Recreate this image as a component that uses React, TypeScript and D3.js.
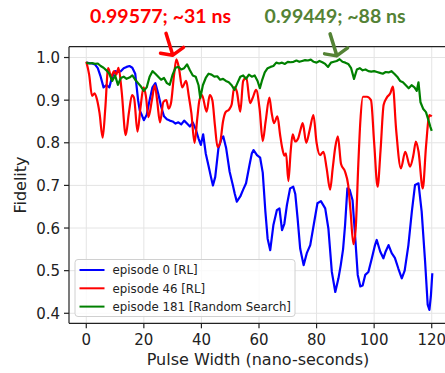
import * as d3 from "d3";

const WIDTH = 445;
const HEIGHT = 373;
const PLOT = { left: 69, top: 46.7, right: 449, bottom: 323.3 };

const X_DOMAIN = [-6, 126];
const Y_DOMAIN = [0.3765, 1.0254];
const X_TICKS = [0, 20, 40, 60, 80, 100, 120];
const Y_TICKS = [0.4, 0.5, 0.6, 0.7, 0.8, 0.9, 1.0];

const SERIES_NAMES = ["episode 0 [RL]", "episode 46 [RL]", "episode 181 [Random Search]"];
const SERIES_COLORS = ["#0000ff", "#ff0000", "#008000"];

// episode 0 [RL]
const episode0: [number, number][] = [
  [0, 0.988], [1, 0.987], [2, 0.986], [3, 0.984], [4, 0.975], [5, 0.955], [6, 0.93],
  [7, 0.935], [8, 0.93], [9, 0.955], [10, 0.968], [11, 0.966], [12, 0.968], [13, 0.975],
  [14, 0.978], [15, 0.98], [16, 0.976], [17, 0.962], [18, 0.9], [18.6, 0.875], [19.3, 0.865],
  [20, 0.853], [21, 0.866], [22, 0.9], [23, 0.93], [24, 0.94], [25, 0.915], [26, 0.885],
  [27, 0.862], [28, 0.855], [29, 0.852], [30, 0.85], [31, 0.845], [32, 0.848], [33, 0.843],
  [34, 0.852], [35, 0.845], [36, 0.838], [37, 0.848], [38, 0.832], [39, 0.81], [39.8, 0.795],
  [40.6, 0.82], [41.5, 0.775], [42.5, 0.745], [43.3, 0.72], [44, 0.7], [44.8, 0.72],
  [45.9, 0.787], [47, 0.81], [47.6, 0.815], [48.6, 0.787], [49.8, 0.732], [50.9, 0.701],
  [51.6, 0.68], [52.3, 0.662], [53.5, 0.674], [54.5, 0.69], [55.5, 0.705], [56.7, 0.748],
  [57.5, 0.775], [58.1, 0.783], [59.3, 0.771], [60.4, 0.765], [61.3, 0.73], [62.2, 0.64],
  [63, 0.575], [63.9, 0.548], [65, 0.607], [66.2, 0.642], [67.1, 0.646], [68, 0.595],
  [68.8, 0.61], [69.7, 0.654], [70.8, 0.693], [71.9, 0.697], [72.6, 0.68], [73.4, 0.623],
  [74.3, 0.552], [75.5, 0.513], [76.6, 0.541], [77.8, 0.56], [79, 0.607], [80.3, 0.658],
  [81.5, 0.663], [83, 0.646], [84.1, 0.599], [85.3, 0.497], [86.5, 0.45], [87.6, 0.482],
  [88.4, 0.513], [89.2, 0.55], [89.9, 0.607], [90.7, 0.693], [91.5, 0.69], [92.5, 0.665],
  [93.4, 0.58], [94.3, 0.49], [95.2, 0.463], [96, 0.465], [96.9, 0.49], [98, 0.497],
  [99.2, 0.529], [100.3, 0.56], [100.9, 0.572], [102.1, 0.545], [103.2, 0.529], [104, 0.545],
  [105, 0.56], [106.1, 0.541], [107.2, 0.53], [108.4, 0.505], [109.6, 0.482], [110.6, 0.5],
  [111.9, 0.56], [113.1, 0.639], [114.2, 0.701], [115.4, 0.705], [116.5, 0.639],
  [117.7, 0.521], [118.6, 0.42], [119.2, 0.408], [119.7, 0.44], [120.2, 0.494],
];

// episode 46 [RL]
const episode46: [number, number][] = [
  [0, 0.99], [1, 0.96], [2, 0.91], [2.9, 0.916], [3.7, 0.902], [4.6, 0.87], [5.7, 0.812],
  [6.6, 0.88], [7.6, 0.975], [8.7, 0.955], [9.6, 0.968], [10.4, 0.96], [11.2, 0.976],
  [12.3, 0.92], [13.7, 0.818], [14.8, 0.87], [15.9, 0.912], [16.6, 0.905], [17.8, 0.826],
  [18.8, 0.88], [19.9, 0.93], [20.7, 0.91], [21.6, 0.86], [22.8, 0.9], [23.8, 0.935],
  [24.6, 0.9], [25.6, 0.848], [26.8, 0.896], [27.8, 0.9], [28.6, 0.88], [29.4, 0.892],
  [30.5, 0.96], [31.3, 0.996], [32.2, 0.975], [33.3, 0.93], [34.7, 0.945], [35.6, 0.91],
  [36.5, 0.87], [37.6, 0.8], [38.6, 0.86], [39.3, 0.9], [40.2, 0.912], [41.8, 0.873],
  [42.9, 0.912], [43.8, 0.9], [44.7, 0.84], [45.6, 0.79], [46.5, 0.8], [47.5, 0.85],
  [48.4, 0.872], [49.6, 0.878], [50.5, 0.89], [51.4, 0.93], [52.3, 0.92], [53.5, 0.873],
  [54.5, 0.945], [55.6, 0.953], [56.9, 0.893], [57.8, 0.905], [59, 0.924], [60.2, 0.88],
  [61.3, 0.804], [62.3, 0.85], [63.6, 0.906], [64.4, 0.87], [65.2, 0.846], [66.4, 0.862],
  [67.3, 0.82], [68, 0.79], [68.8, 0.77], [69.4, 0.775], [70.2, 0.71], [71, 0.78],
  [71.7, 0.82], [72.6, 0.803], [73.6, 0.81], [74.4, 0.83], [75.2, 0.846], [76.4, 0.8],
  [77.6, 0.83], [78.9, 0.865], [80, 0.8], [81.2, 0.771], [82.4, 0.779], [83.5, 0.74],
  [84.7, 0.69], [85.6, 0.74], [86.5, 0.79], [87.4, 0.815], [88.5, 0.75], [89.9, 0.732],
  [91, 0.7], [91.8, 0.64], [92.8, 0.562], [93.6, 0.6], [94.5, 0.75], [95.2, 0.85],
  [96.1, 0.908], [97.5, 0.908], [98.9, 0.9], [100, 0.8], [101.2, 0.697], [102.2, 0.78],
  [103.3, 0.889], [104.4, 0.906], [105.6, 0.916], [106.5, 0.932], [107.6, 0.834],
  [109.3, 0.74], [110.8, 0.779], [112.5, 0.744], [113.6, 0.77], [114.5, 0.803],
  [115.4, 0.78], [116.9, 0.693], [118, 0.79], [119.2, 0.865], [120, 0.862],
];

// episode 181 [Random Search]
const episode181: [number, number][] = [
  [0, 0.988], [1, 0.986], [2, 0.987], [3, 0.985], [4, 0.986], [5, 0.98], [6, 0.976],
  [7, 0.97], [8, 0.962], [9, 0.945], [10, 0.958], [11, 0.936], [12, 0.952], [13, 0.955],
  [14, 0.95], [15, 0.953], [16, 0.958], [17, 0.948], [18, 0.94], [19, 0.932], [20, 0.922],
  [21, 0.93], [22, 0.955], [23, 0.968], [24, 0.962], [25, 0.955], [26, 0.948], [27, 0.952],
  [28, 0.94], [29, 0.936], [30, 0.96], [31, 0.976], [32, 0.978], [33, 0.972], [34, 0.975],
  [35, 0.984], [36, 0.97], [37, 0.958], [38, 0.955], [39, 0.935], [39.6, 0.905],
  [40.5, 0.935], [41.5, 0.952], [42.5, 0.962], [43.5, 0.96], [44.5, 0.955], [45.5, 0.956],
  [46.5, 0.948], [47.5, 0.95], [48.5, 0.945], [49.5, 0.942], [50.5, 0.935], [51.5, 0.924],
  [52.5, 0.94], [53.5, 0.955], [54.5, 0.958], [55.5, 0.95], [56.5, 0.96], [57.5, 0.955],
  [58.5, 0.958], [59.5, 0.945], [60.3, 0.928], [61, 0.945], [62, 0.965], [63, 0.975],
  [64, 0.978], [65, 0.98], [66, 0.988], [67, 0.986], [68, 0.988], [69, 0.985], [70, 0.99],
  [71, 0.989], [72, 0.99], [73, 0.993], [74, 0.99], [75, 0.992], [76, 0.994], [77, 0.993],
  [78, 0.995], [79, 0.99], [80, 0.988], [81, 0.992], [82, 0.989], [83, 0.985], [84, 0.978],
  [85, 0.988], [86, 0.99], [87, 0.992], [88, 0.996], [89, 0.99], [90, 0.988], [91, 0.985],
  [92, 0.975], [93, 0.95], [94, 0.972], [95, 0.975], [96, 0.97], [97, 0.972], [98, 0.968],
  [99, 0.967], [100, 0.968], [101, 0.966], [102, 0.964], [103, 0.962], [104, 0.966],
  [105, 0.965], [106, 0.968], [107, 0.962], [108, 0.955], [109, 0.945], [110, 0.942],
  [111, 0.935], [112, 0.928], [113, 0.935], [114, 0.93], [114.8, 0.922], [115.4, 0.942],
  [116.1, 0.895], [117, 0.88], [118, 0.872], [119, 0.85], [119.5, 0.838], [120, 0.828],
];

const ALL_SERIES = [episode0, episode46, episode181];
// the RL episode 46 pulse is a smooth waveform, the others are noisy
const SMOOTH = [false, true, false];

// annotated best points
const ANNOT_LABELS = ["0.99577; ~31 ns", "0.99449; ~88 ns"];
const ANNOT_X = [31, 88];
const ANNOT_Y = [0.99577, 0.99449];
const ANNOT_COLORS = ["#ff0000", "#548235"];

export default function App() {
  const x = d3.scaleLinear().domain(X_DOMAIN).range([PLOT.left, PLOT.right]);
  const y = d3.scaleLinear().domain(Y_DOMAIN).range([PLOT.bottom, PLOT.top]);
  const straight = d3
    .line<[number, number]>()
    .x((d) => x(d[0]))
    .y((d) => y(d[1]));
  const smooth = d3
    .line<[number, number]>()
    .x((d) => x(d[0]))
    .y((d) => y(d[1]))
    .curve(d3.curveMonotoneX);

  const tickFont = "DejaVu Sans, sans-serif";

  return (
    <svg
      width={WIDTH}
      height={HEIGHT}
      style={{ position: "absolute", left: 0, top: 0, background: "#fff" }}
    >
      {/* grid */}
      {X_TICKS.map((t) => (
        <line key={"gx" + t} x1={x(t)} x2={x(t)} y1={PLOT.top} y2={PLOT.bottom} stroke="#e4e4e4" strokeWidth={1} />
      ))}
      {Y_TICKS.map((t) => (
        <line key={"gy" + t} x1={PLOT.left} x2={PLOT.right} y1={y(t)} y2={y(t)} stroke="#e4e4e4" strokeWidth={1} />
      ))}

      {/* series */}
      {ALL_SERIES.map((s, i) => (
        <path
          key={i}
          d={(SMOOTH[i] ? smooth(s) : straight(s)) || ""}
          fill="none"
          stroke={SERIES_COLORS[i]}
          strokeWidth={2.2}
          strokeLinejoin="round"
        />
      ))}

      {/* spines */}
      <line x1={PLOT.left} x2={PLOT.left} y1={PLOT.top} y2={PLOT.bottom} stroke="#222" strokeWidth={1.2} />
      <line x1={PLOT.left} x2={PLOT.right} y1={PLOT.bottom} y2={PLOT.bottom} stroke="#222" strokeWidth={1.2} />
      <line x1={PLOT.left} x2={PLOT.right} y1={PLOT.top} y2={PLOT.top} stroke="#222" strokeWidth={1.2} />

      {/* x ticks */}
      {X_TICKS.map((t) => (
        <g key={"xt" + t}>
          <line x1={x(t)} x2={x(t)} y1={PLOT.bottom} y2={PLOT.bottom + 5} stroke="#222" strokeWidth={1.2} />
          <text x={x(t)} y={PLOT.bottom + 22} textAnchor="middle" fontFamily={tickFont} fontSize={15} fill="#222">
            {t}
          </text>
        </g>
      ))}
      {/* y ticks */}
      {Y_TICKS.map((t) => (
        <g key={"yt" + t}>
          <line x1={PLOT.left - 5} x2={PLOT.left} y1={y(t)} y2={y(t)} stroke="#222" strokeWidth={1.2} />
          <text x={PLOT.left - 9} y={y(t) + 5.5} textAnchor="end" fontFamily={tickFont} fontSize={15} fill="#222">
            {t.toFixed(1)}
          </text>
        </g>
      ))}

      {/* axis labels */}
      <text x={258} y={365} textAnchor="middle" fontFamily={tickFont} fontSize={16} fill="#222">
        Pulse Width (nano-seconds)
      </text>
      <text
        transform={`translate(26, 185) rotate(-90)`}
        textAnchor="middle"
        fontFamily={tickFont}
        fontSize={16}
        fill="#222"
      >
        Fidelity
      </text>

      {/* legend */}
      <rect x={75} y={259.5} width={220} height={57} rx={3} fill="#fff" fillOpacity={0.8} stroke="#d0d0d0" />
      {SERIES_NAMES.map((name, i) => (
        <g key={name}>
          <line x1={79.5} x2={104.5} y1={270 + i * 18.3} y2={270 + i * 18.3} stroke={SERIES_COLORS[i]} strokeWidth={2} />
          <text x={112.5} y={274.2 + i * 18.3} fontFamily={tickFont} fontSize={11.8} fill="#222">
            {name}
          </text>
        </g>
      ))}

      {/* annotations */}
      {ANNOT_LABELS.map((label, i) => {
        const ax = x(ANNOT_X[i]);
        const ay = y(ANNOT_Y[i]);
        const tipX = ax - 3;
        const tipY = ay - 5;
        return (
          <g key={label}>
            <text
              x={i === 0 ? ax - 15 : ax - 4.5}
              y={23}
              textAnchor="middle"
              fontFamily="Lato, Liberation Sans, sans-serif"
              fontWeight="bold"
              fontSize={19}
              fill={ANNOT_COLORS[i]}
              textLength={141}
              lengthAdjust="spacingAndGlyphs"
            >
              {label}
            </text>
            <path
              d={`M${tipX - 6.5},${tipY - 21} L${tipX},${tipY} M${tipX - 12},${tipY - 1} L${tipX},${tipY + 1} L${tipX + 11},${tipY - 7}`}
              fill="none"
              stroke={ANNOT_COLORS[i]}
              strokeWidth={3.5}
              strokeLinecap="round"
              strokeLinejoin="round"
            />
          </g>
        );
      })}
    </svg>
  );
}
